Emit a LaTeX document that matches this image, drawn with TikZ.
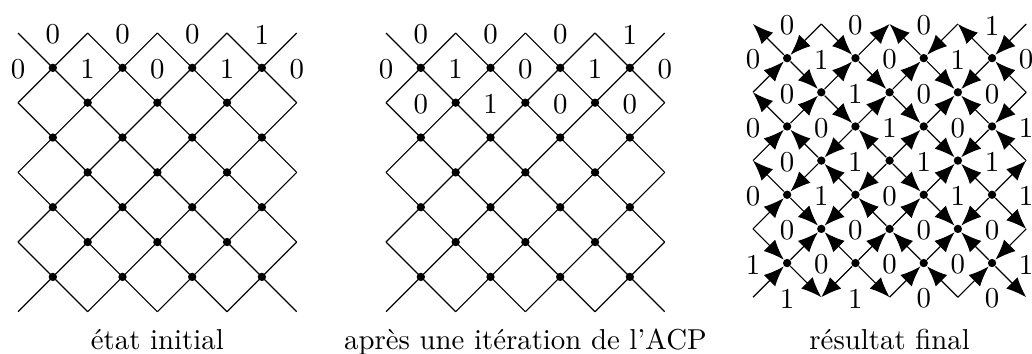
\documentclass[tikz,border=0pt]{standalone}
\usepackage{tikz}
\usetikzlibrary{arrows.meta}

% points du reseau (bord = coordonnees, interieur = sommets)
\newcommand{\reseau}[1]{
	\foreach \x in {0,2,...,8} \foreach \y in {0,2,...,8} \coordinate (#1-\x-\y) at (\x,\y);
	\foreach \x in {2,4,6} \foreach \y in {2,4,6} \node[sommet] (#1-\x-\y) at (\x,\y) {};
	\foreach \x in {1,3,...,7} \foreach \y in {1,3,...,7} \node[sommet] (#1-\x-\y) at (\x,\y) {};
}
% diagonales sans fleches
\newcommand{\diagonales}[1]{
	\foreach \da in {0,2,4,6} {
		\pgfmathtruncatemacro\db{8-\da}
		\draw (#1-\da-0) -- (#1-8-\db) (#1-0-\da) -- (#1-\db-8);
		\draw (#1-\da-0) -- (#1-0-\da) (#1-8-\da) -- (#1-\da-8);
	}
}
% une rangee de valeurs : #1 prefixe, #2 ligne, #3 valeurs
\newcommand{\rangee}[3]{
	\foreach \valeur [count=\n] in {#3}
		\node[val] (#1-v\n-#2) at ({2*\n-1-mod(#2,2)},#2) {\valeur};
}

\begin{document}
\begin{tikzpicture}[x=0.347pt,y=-0.347pt,
		sommet/.style={circle,fill,inner sep=0pt,minimum size=2.9pt},
		val/.style={inner sep=0pt,yshift=-0.5pt},
		fleche/.style={-{Latex[length=7pt,width=5.6pt]}}]
		\useasboundingbox (0,0) rectangle (1032,354);
		% etat initial
		\begin{scope}[shift={(18,33)},x=12.09pt,y=-12.09pt]
			\reseau{A}
			\diagonales{A}
			\rangee{A}{0}{0,0,0,1}
			\rangee{A}{1}{0,1,0,1,0}
		\end{scope}
		% apres une iteration
		\begin{scope}[shift={(386,33)},x=12.09pt,y=-12.09pt]
			\reseau{B}
			\diagonales{B}
			\rangee{B}{0}{0,0,0,1}
			\rangee{B}{1}{0,1,0,1,0}
			\rangee{B}{2}{0,1,0,0}
		\end{scope}
		% resultat final
		\begin{scope}[shift={(753,24)},x=11.85pt,y=-11.85pt]
			\reseau{C}
			\foreach \p/\q in {1-1/0-0,2-0/1-1,2-0/3-1,3-1/4-0,5-1/4-0,6-0/5-1,7-1/6-0,8-0/7-1,%
				0-2/1-1,1-1/2-2,2-2/3-1,3-1/4-2,4-2/5-1,5-1/6-2,7-1/6-2,8-2/7-1,%
				1-3/0-2,1-3/2-2,2-2/3-3,3-3/4-2,4-2/5-3,5-3/6-2,7-3/6-2,8-2/7-3,%
				0-4/1-3,2-4/1-3,3-3/2-4,4-4/3-3,4-4/5-3,5-3/6-4,7-3/6-4,8-4/7-3,%
				1-5/0-4,2-4/1-5,3-5/2-4,4-4/3-5,4-4/5-5,5-5/6-4,7-5/6-4,7-5/8-4,%
				0-6/1-5,1-5/2-6,3-5/2-6,4-6/3-5,4-6/5-5,5-5/6-6,7-5/6-6,7-5/8-6,%
				0-6/1-7,1-7/2-6,3-7/2-6,3-7/4-6,5-7/4-6,5-7/6-6,7-7/6-6,8-6/7-7,%
				0-8/1-7,1-7/2-8,3-7/2-8,3-7/4-8,4-8/5-7,6-8/5-7,6-8/7-7,7-7/8-8}
				\draw[fleche] (C-\p) -- (C-\q);
			\rangee{C}{0}{0,0,0,1}
			\rangee{C}{1}{0,1,0,1,0}
			\rangee{C}{2}{0,1,0,0}
			\rangee{C}{3}{0,0,1,0,1}
			\rangee{C}{4}{0,1,1,1}
			\rangee{C}{5}{0,1,0,1,1}
			\rangee{C}{6}{0,0,0,0}
			\rangee{C}{7}{1,0,0,0,1}
			\rangee{C}{8}{1,1,0,0}
		\end{scope}
		\node[anchor=base] (titreA) at (157.4,349) {état initial};
		\node[anchor=base] (titreB) at (525.4,349) {après une itération de l’ACP};
		\node[anchor=base] (titreC) at (889.6,349) {résultat final};
		
\end{tikzpicture}
\end{document}
